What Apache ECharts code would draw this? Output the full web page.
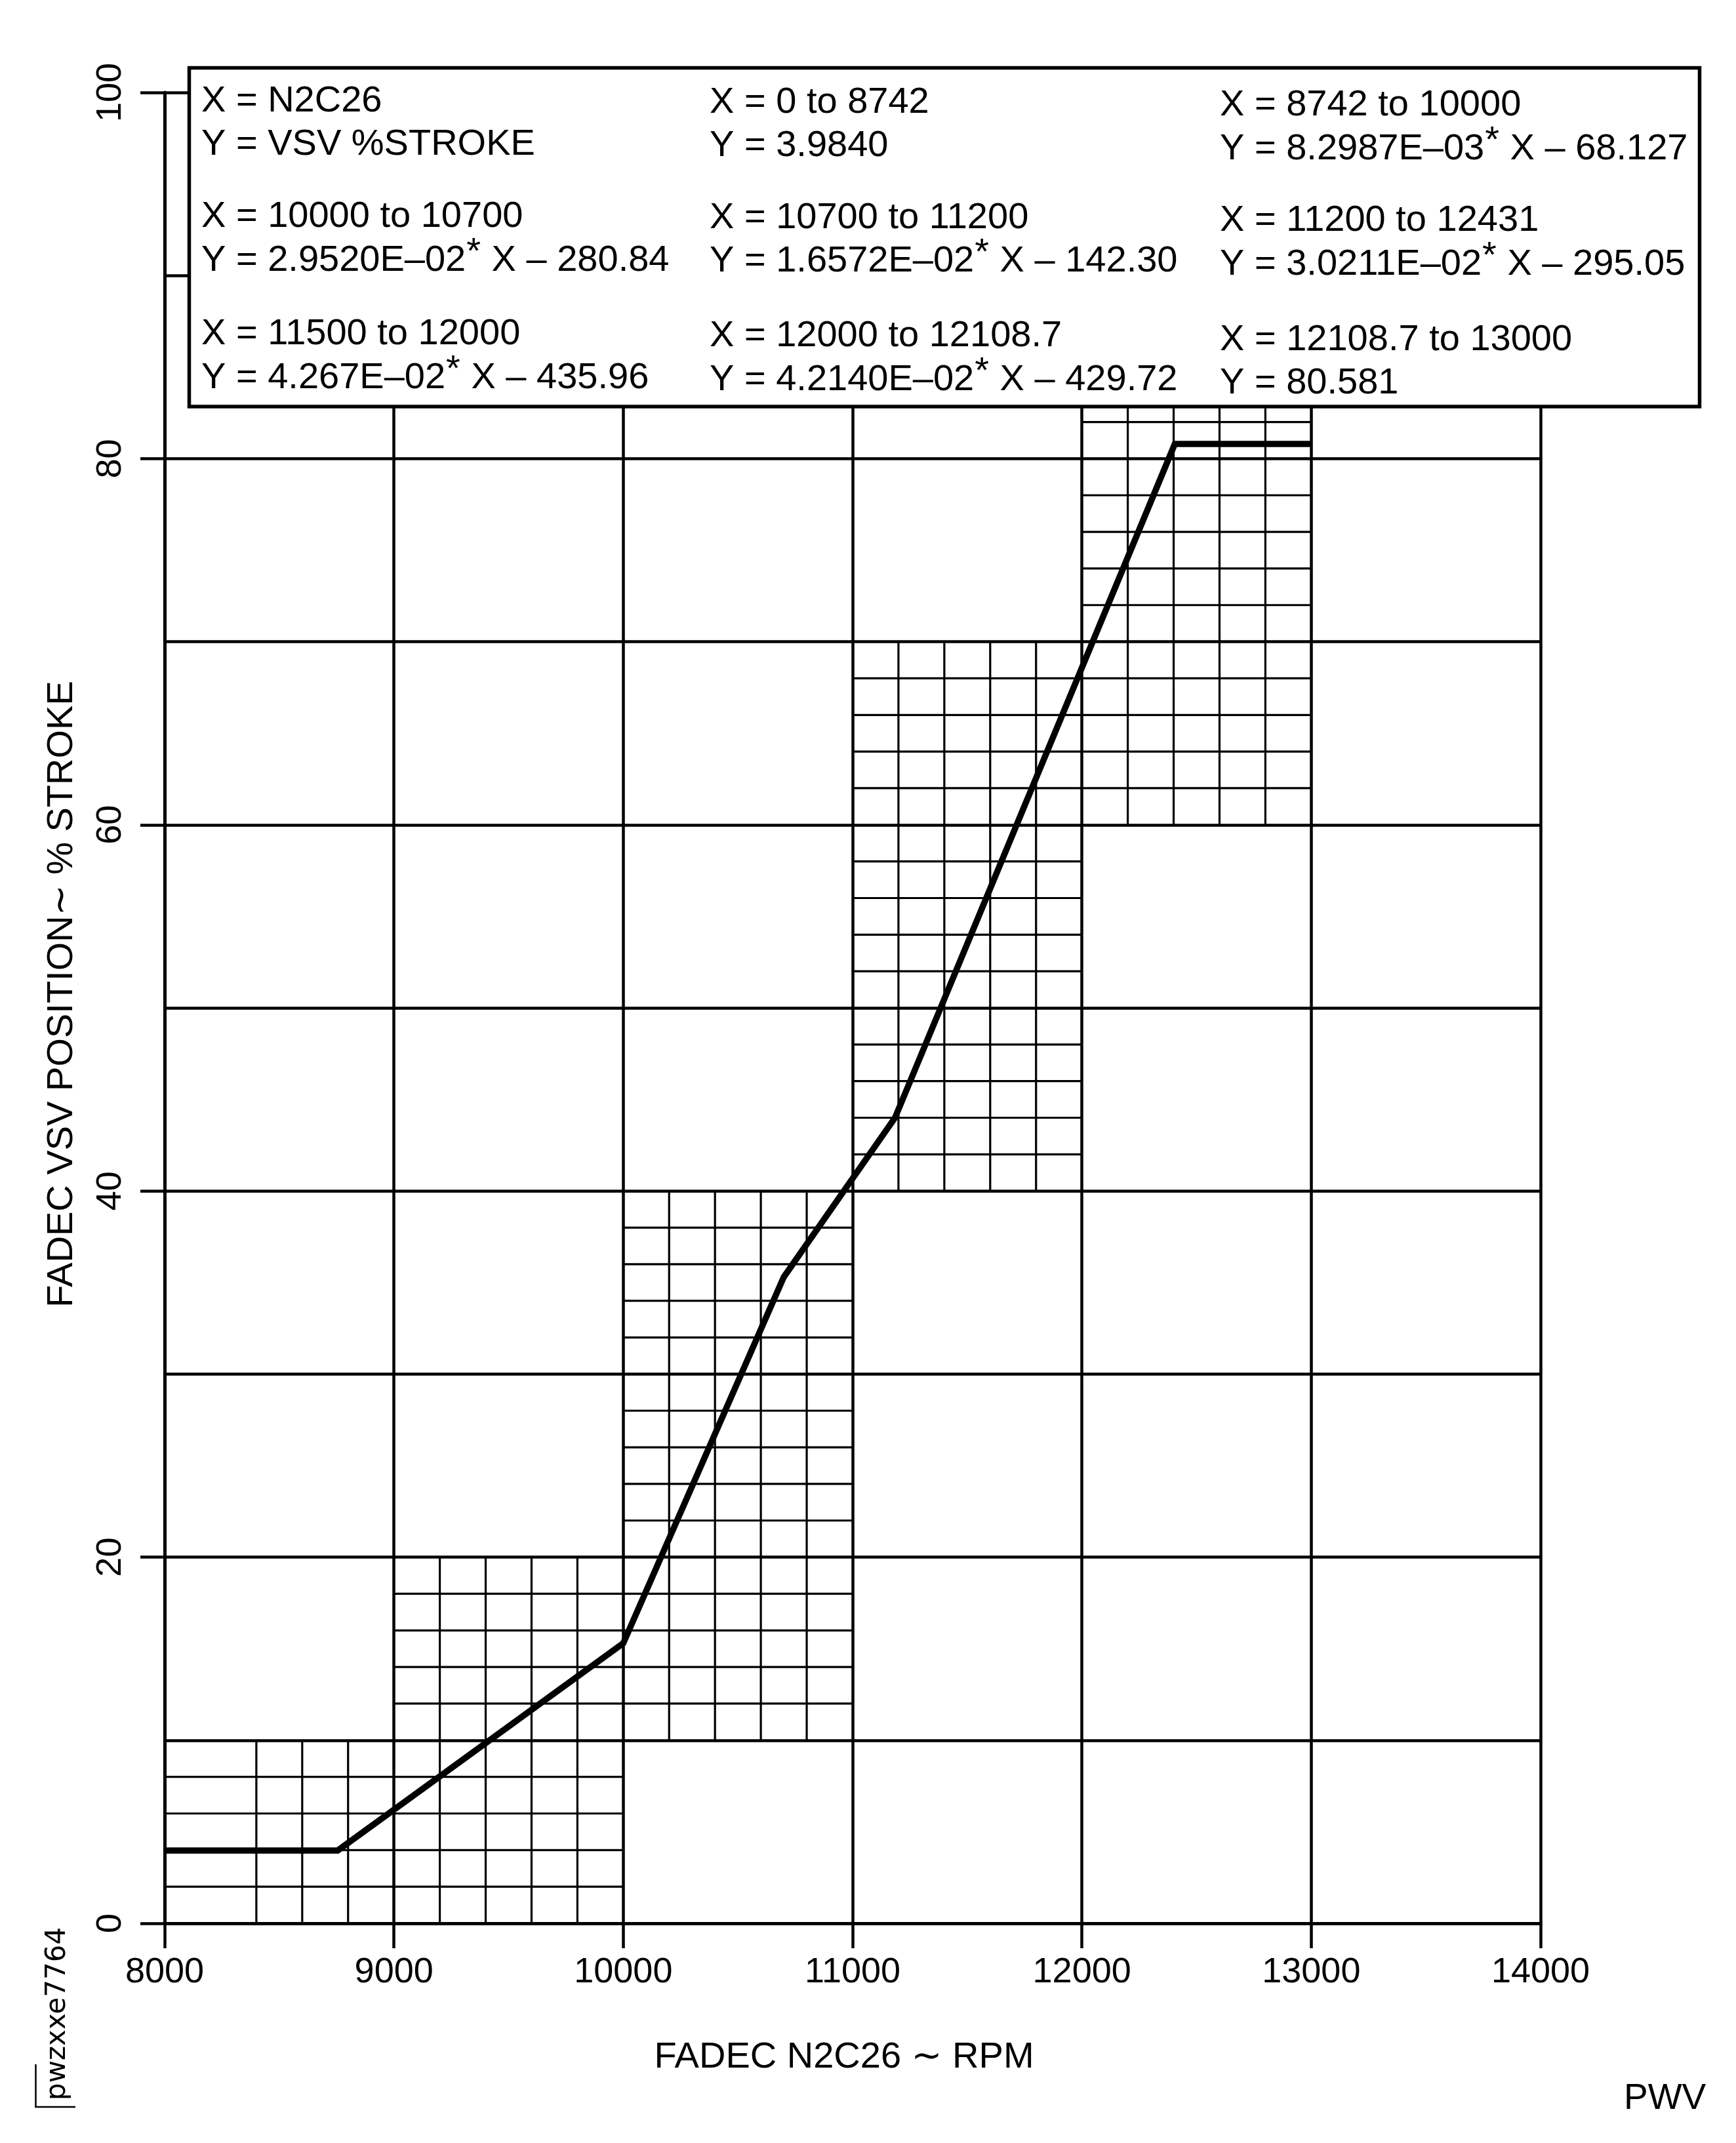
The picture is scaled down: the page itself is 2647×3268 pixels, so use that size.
<!DOCTYPE html>
<html><head><meta charset="utf-8">
<script src="https://cdn.jsdelivr.net/npm/echarts@6/dist/echarts.min.js"></script>
<style>html,body{margin:0;padding:0;background:#fff}#c{width:2647px;height:3268px}</style>
</head><body><div id="c"></div>
<script>
// ---- data ----
const curveRpm    = [8000, 8755, 10000, 10700, 11185, 12405, 13000];
const curveStroke = [3.98, 3.98, 15.3, 35.3, 44.0, 80.8, 80.8];

// fine grid blocks (data units)
// rows: [yFrom, yTo, xFrom, xTo] -> horizontal lines every 2 %
const fineRows = [[0,10,8000,10000],[10,20,9000,11000],[20,40,10000,11000],[40,60,11000,12000],[60,70,11000,13000],[70,90,12000,13000]];
// cols: [xFrom, xTo, yFrom, yTo] -> vertical lines every 200 rpm
const fineCols = [[8400,9000,0,10],[9000,10000,0,20],[10000,11000,10,40],[11000,12000,40,70],[12000,13000,60,90]];

const xTicks = [8000, 9000, 10000, 11000, 12000, 13000, 14000];
const yTicks = [0, 20, 40, 60, 80, 100];

const legendCol1 = ['X = N2C26', 'Y = VSV %STROKE', 'X = 10000 to 10700', 'Y = 2.9520E–02* X – 280.84', 'X = 11500 to 12000', 'Y = 4.267E–02* X – 435.96'];
const legendCol2 = ['X = 0 to 8742', 'Y = 3.9840', 'X = 10700 to 11200', 'Y = 1.6572E–02* X – 142.30', 'X = 12000 to 12108.7', 'Y = 4.2140E–02* X – 429.72'];
const legendCol3 = ['X = 8742 to 10000', 'Y = 8.2987E–03* X – 68.127', 'X = 11200 to 12431', 'Y = 3.0211E–02* X – 295.05', 'X = 12108.7 to 13000', 'Y = 80.581'];

// ---- build ----
const FONT = '"Liberation Sans", Arial, Helvetica, sans-serif';
const LFONT = '56px ' + FONT;
const segs = [];
fineRows.forEach(([y0, y1, x0, x1]) => {
  for (let y = y0 + 2; y < y1; y += 2) { if (y % 10 !== 0) segs.push([x0, y, x1, y]); }
});
fineCols.forEach(([x0, x1, y0, y1]) => {
  for (let x = x0; x < x1; x += 200) { if (x % 1000 !== 0) segs.push([x, y0, x, y1]); }
});
const curve = curveRpm.map((x, i) => [x, curveStroke[i]]);

const mctx = document.createElement('canvas').getContext('2d');
mctx.font = LFONT;
const tw = s => mctx.measureText(s).width;

const colX = [307, 1082, 1860];
const colY = [[155, 221, 331, 398, 510, 577], [157, 223, 333, 399, 513, 580], [161, 228, 337, 404, 519, 585]];
const cols = [legendCol1, legendCol2, legendCol3];
const legendEls = [];
function txt(s, x, y) {
  return { type: 'text', z: 102, x: x, y: y, style: { text: s, font: LFONT, fill: '#000', align: 'left', verticalAlign: 'middle' } };
}
cols.forEach((lines, ci) => {
  lines.forEach((t, ri) => {
    const x = colX[ci], y = colY[ci][ri];
    const k = t.indexOf('*');
    if (k < 0) { legendEls.push(txt(t, x, y)); return; }
    const pre = t.slice(0, k), post = t.slice(k + 1);
    const w1 = tw(pre), w2 = tw('*');
    legendEls.push(txt(pre, x, y));
    legendEls.push(txt('*', x + w1 + 1, y - 12));
    legendEls.push(txt(post, x + w1 + w2 + 2, y));
  });
});

const chart = echarts.init(document.getElementById('c'), null, { renderer: 'canvas' });
chart.setOption({
  animation: false,
  backgroundColor: '#fff',
  grid: { left: 251, top: 141, width: 2098, height: 2792, containLabel: false },
  xAxis: {
    type: 'value', min: xTicks[0], max: xTicks[xTicks.length - 1], interval: 1000,
    axisLine: { show: true, onZero: false, lineStyle: { color: '#000', width: 5 } },
    axisTick: { show: true, length: 38, lineStyle: { color: '#000', width: 4.5 } },
    axisLabel: { margin: 48, fontSize: 54, fontFamily: FONT, color: '#000', showMinLabel: true, showMaxLabel: true, formatter: v => String(v) },
    splitLine: { show: true, lineStyle: { color: '#000', width: 4.5 } }
  },
  yAxis: {
    type: 'value', min: yTicks[0], max: yTicks[yTicks.length - 1], interval: 20,
    axisLine: { show: true, onZero: false, lineStyle: { color: '#000', width: 5 } },
    axisTick: { show: true, length: 37, lineStyle: { color: '#000', width: 4.5 } },
    axisLabel: { rotate: 90, margin: 55, fontSize: 54, fontFamily: FONT, color: '#000', showMinLabel: true, showMaxLabel: true, formatter: v => String(v) },
    splitLine: { show: true, lineStyle: { color: '#000', width: 4.5 } },
    minorTick: { show: false, splitNumber: 2 },
    minorSplitLine: { show: true, lineStyle: { color: '#000', width: 4.5 } }
  },
  series: [
    {
      type: 'custom', silent: true, z: 1, clip: false,
      data: segs,
      renderItem: function (params, api) {
        const p1 = api.coord([api.value(0), api.value(1)]);
        const p2 = api.coord([api.value(2), api.value(3)]);
        return { type: 'line', shape: { x1: p1[0], y1: p1[1], x2: p2[0], y2: p2[1] }, style: { stroke: '#000', lineWidth: 3.2 } };
      }
    },
    {
      type: 'line', data: curve, symbol: 'none', z: 5,
      lineStyle: { color: '#000', width: 9.5, join: 'miter', cap: 'butt' }
    }
  ],
  graphic: [
    { type: 'rect', z: 100, shape: { x: 288.5, y: 103.5, width: 2303, height: 516.5 }, style: { fill: '#fff', stroke: '#000', lineWidth: 5.5 } },
    ...legendEls,
    { type: 'text', z: 102, x: 1287, y: 3138, style: { text: 'FADEC N2C26 ∼ RPM', font: '56px ' + FONT + ', "DejaVu Sans"', fill: '#000', align: 'center', verticalAlign: 'middle' } },
    { type: 'text', z: 102, x: 95, y: 1516, rotation: Math.PI / 2, style: { text: 'FADEC VSV POSITION∼ % STROKE', font: '56px ' + FONT + ', "DejaVu Sans"', fill: '#000', align: 'center', verticalAlign: 'middle' } },
    { type: 'text', z: 102, x: 2476, y: 3201, style: { text: 'PWV', font: '55px ' + FONT, fill: '#000', align: 'left', verticalAlign: 'middle' } },
    { type: 'text', z: 102, x: 88, y: 3203, rotation: Math.PI / 2, style: { text: 'pwzxxe7764', font: '42px "DejaVu Sans", sans-serif', fill: '#000', align: 'left', verticalAlign: 'middle' } },
    { type: 'polyline', z: 102, shape: { points: [[54.5, 3148], [54.5, 3213], [115, 3213]] }, style: { stroke: '#000', lineWidth: 2.5, fill: null } }
  ]
});
</script></body></html>
